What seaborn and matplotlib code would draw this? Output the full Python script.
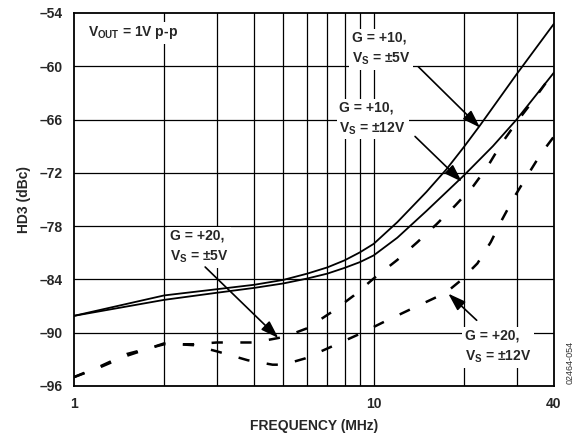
import numpy as np
import pandas as pd
import matplotlib
matplotlib.use("Agg")
import matplotlib.pyplot as plt
import seaborn as sns

# ---- data ----
freq_g10_5v = [1, 2, 3, 4, 5, 6, 7, 8, 9, 10, 12, 15, 17.5, 20, 22.6, 30, 40]
hd3_g10_5v = [-88.1, -85.8, -85.1, -84.6, -84.05, -83.35, -82.65, -81.85, -80.95, -80.0,
              -77.55, -74.15, -71.6, -69.1, -66.7, -60.9, -55.2]

freq_g10_12v = [1, 2, 3, 4, 5, 6, 7, 8, 9, 10, 12, 15, 20, 25, 30, 40]
hd3_g10_12v = [-88.1, -86.3, -85.5, -84.95, -84.45, -83.9, -83.35, -82.7, -82.05, -81.3,
               -79.3, -76.3, -72.3, -69.0, -66.0, -60.7]

freq_g20_5v = [1, 1.22, 1.5, 2, 2.5, 3, 4, 4.8, 5.1, 6, 7.3, 8.6, 10, 12, 14, 16.2,
               18.7, 21.5, 24, 26.6, 30, 34, 40]
hd3_g20_5v = [-95.0, -93.8, -92.4, -91.3, -91.3, -91.1, -91.1, -90.6, -90.4, -89.5,
              -87.6, -85.8, -83.9, -81.8, -79.8, -77.8, -75.7, -73.5, -71.3, -68.8,
              -66.3, -63.9, -60.6]

freq_g20_12v = [1, 1.22, 1.5, 2, 2.5, 3, 3.8, 4.6, 5, 5.9, 7.2, 8.9, 10.8, 13.4, 16.2,
                18, 19.4, 22.2, 24.6, 26.8, 29.5, 32.6, 36.1, 40]
hd3_g20_12v = [-95.0, -93.9, -92.6, -91.2, -91.4, -92.1, -93.1, -93.6, -93.6, -92.9,
               -91.6, -90.2, -88.8, -87.3, -86.0, -85.1, -84.2, -82.2, -79.8, -77.3,
               -74.7, -72.3, -69.9, -67.9]

y_ticks = [-54, -60, -66, -72, -78, -84, -90, -96]
x_ticks = [1, 10, 40]
x_grid = [2, 3, 4, 5, 6, 7, 8, 9, 10, 20, 30]

# ---- style ----
sns.set_theme(style="white")
plt.rcParams["font.family"] = ["Liberation Sans", "DejaVu Sans"]
plt.rcParams["font.weight"] = "bold"
plt.rcParams["mathtext.fontset"] = "custom"
plt.rcParams["mathtext.rm"] = "Liberation Sans:bold"
plt.rcParams["mathtext.bf"] = "Liberation Sans:bold"
plt.rcParams["mathtext.it"] = "Liberation Sans:bold"

fig = plt.figure(figsize=(5.79, 4.37), dpi=100)
ax = fig.add_axes([74 / 579, 51 / 437, 480 / 579, 373 / 437])

ax.set_xscale("log")
ax.set_xlim(1, 40)
ax.set_ylim(-96, -54)

# grid
for xv in x_grid:
    ax.axvline(xv, color="black", lw=0.9, zorder=1)
for yv in y_ticks[1:-1]:
    ax.axhline(yv, color="black", lw=0.9, zorder=1)

df_solid1 = pd.DataFrame({"f": freq_g10_5v, "hd3": hd3_g10_5v})
df_solid2 = pd.DataFrame({"f": freq_g10_12v, "hd3": hd3_g10_12v})
df_dash1 = pd.DataFrame({"f": freq_g20_5v, "hd3": hd3_g20_5v})
df_dash2 = pd.DataFrame({"f": freq_g20_12v, "hd3": hd3_g20_12v})

sns.lineplot(data=df_solid1, x="f", y="hd3", ax=ax, color="black", lw=1.3, zorder=3)
sns.lineplot(data=df_solid2, x="f", y="hd3", ax=ax, color="black", lw=1.3, zorder=3)
sns.lineplot(data=df_dash1, x="f", y="hd3", ax=ax, color="black", lw=1.8, zorder=3)
ax.lines[-1].set_dashes([4.5, 7])
sns.lineplot(data=df_dash2, x="f", y="hd3", ax=ax, color="black", lw=1.8, zorder=3)
ax.lines[-1].set_dashes([4.5, 7])

# axes
ax.set_xticks(x_ticks)
ax.set_xticklabels([str(v) for v in x_ticks], fontsize=10, fontweight="bold")
ax.xaxis.set_minor_locator(matplotlib.ticker.NullLocator())
ax.set_yticks(y_ticks)
ax.set_yticklabels(["\u2013" + str(abs(v)) for v in y_ticks], fontsize=10, fontweight="bold")
ax.tick_params(axis="both", length=0)
ax.tick_params(axis="x", pad=8)
ax.tick_params(axis="y", pad=8)
for s in ax.spines.values():
    s.set_color("black")
    s.set_linewidth(1.3)
    s.set_zorder(5)

ax.set_xlabel("FREQUENCY (MHz)", fontsize=10, fontweight="bold", labelpad=6)
ax.set_ylabel("HD3 (dBc)", fontsize=10, fontweight="bold", labelpad=6)

# annotations
box = dict(facecolor="white", edgecolor="none", pad=2)
ls = 1.5
ax.text(1.114, -56.25, r"$\mathbf{V_{OUT}}$ = 1V p-p", fontsize=10, fontweight="bold",
        ha="left", va="center", bbox=box, zorder=6)
ax.text(8.45, -58.05, "G = +10,\n" + r"$\mathbf{V_S}$ = " + "\u00b15V",
        fontsize=10, fontweight="bold", ha="left", va="center", bbox=box, zorder=6,
        linespacing=ls)
ax.text(7.69, -65.86, "G = +10,\n" + r"$\mathbf{V_S}$ = " + "\u00b112V",
        fontsize=10, fontweight="bold", ha="left", va="center", bbox=box, zorder=6,
        linespacing=ls)
ax.text(2.09, -80.35, "G = +20,\n" + r"$\mathbf{V_S}$ = " + "\u00b15V",
        fontsize=10, fontweight="bold", ha="left", va="center", bbox=box, zorder=6,
        linespacing=ls)
ax.text(20.18, -91.6, "G = +20,\n" + r"$\mathbf{V_S}$ = " + "\u00b112V",
        fontsize=10, fontweight="bold", ha="left", va="center", bbox=box, zorder=6,
        linespacing=ls)

arrow = dict(arrowstyle="-|>,head_length=0.9,head_width=0.3", color="black", lw=1.2,
             shrinkA=0, shrinkB=0)
ax.annotate("", xy=(22.65, -66.9), xytext=(14.1, -60.05), arrowprops=arrow, zorder=7)
ax.annotate("", xy=(19.7, -73.0), xytext=(13.75, -67.9), arrowprops=arrow, zorder=7)
ax.annotate("", xy=(4.81, -90.6), xytext=(2.74, -82.6), arrowprops=arrow, zorder=7)
ax.annotate("", xy=(17.75, -85.6), xytext=(22.08, -88.6), arrowprops=arrow, zorder=7)

fig.text(570 / 579, 1 - 362 / 437, "02464-054", rotation=90, fontsize=6.5,
         fontweight="normal", ha="center", va="center", color="#333333")

fig.savefig("out.png", dpi=100)
